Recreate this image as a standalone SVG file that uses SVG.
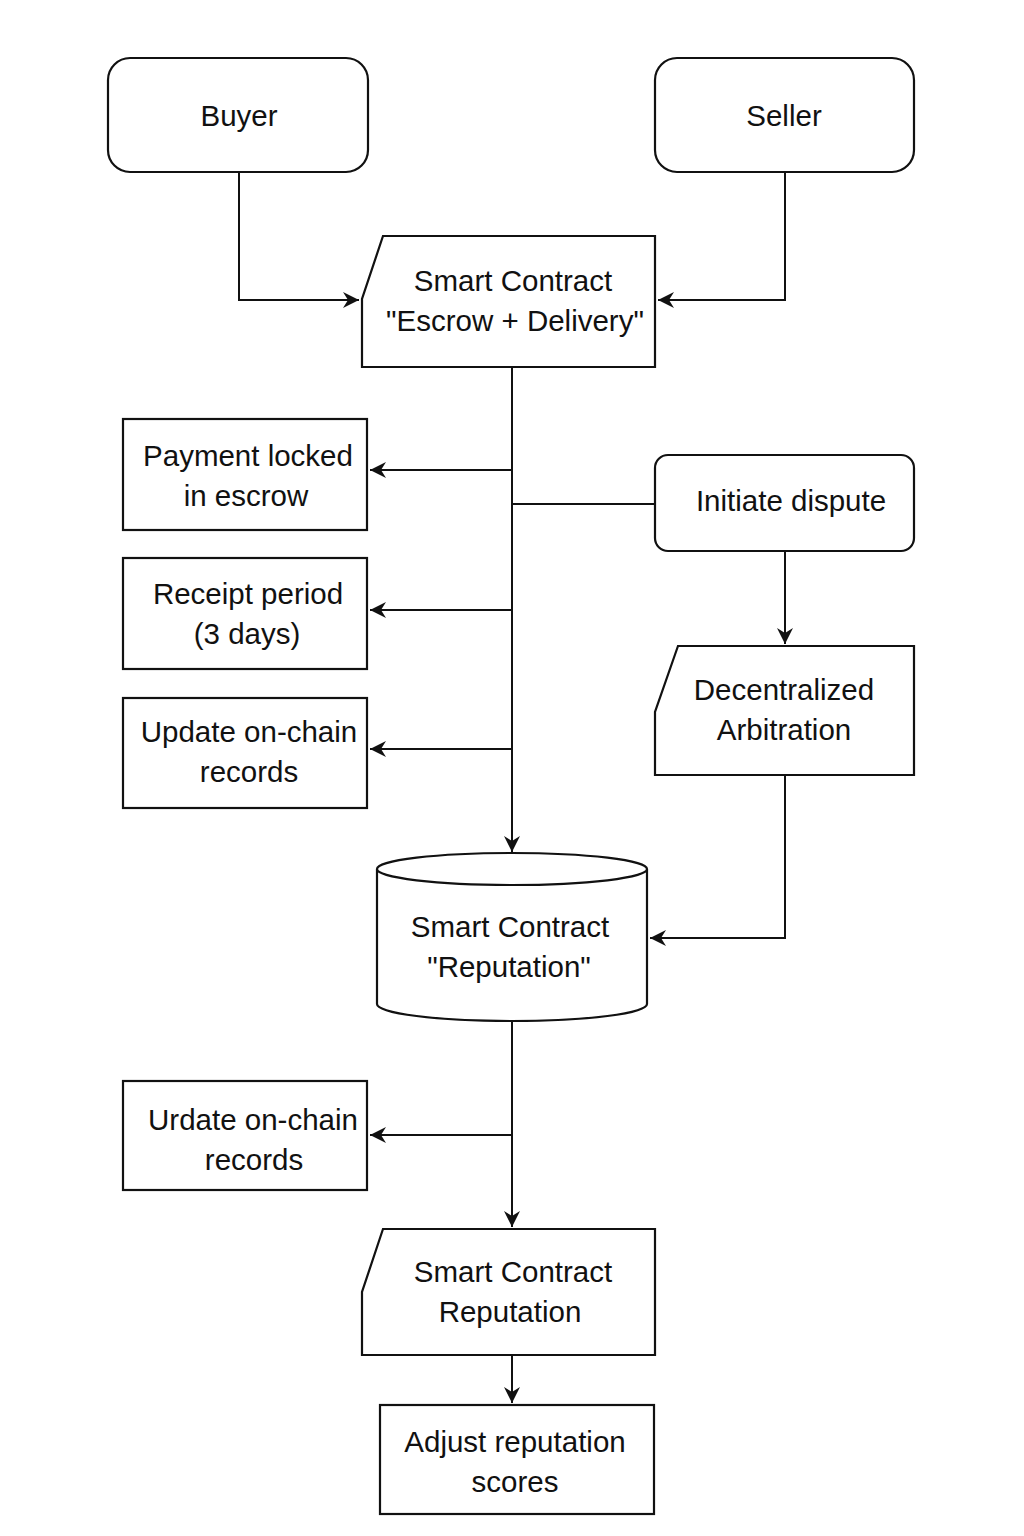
<svg xmlns="http://www.w3.org/2000/svg" width="1024" height="1536" viewBox="0 0 1024 1536">
<defs>
<style>
.n{fill:#fff;stroke:#111;stroke-width:2.2}
.c{fill:none;stroke:#111;stroke-width:2}
text{font-family:"Liberation Sans",Arial,sans-serif;font-size:29.5px;fill:#111;text-anchor:middle}
</style>
<marker id="a" markerWidth="18" markerHeight="16" refX="16" refY="8" orient="auto" markerUnits="userSpaceOnUse">
<path d="M0,0 L16,8 L0,16 L5,8 Z" fill="#111"/>
</marker>
</defs>
<rect width="1024" height="1536" fill="#fff"/>
<g id="connectors">
<path class="c" d="M239,172 V300 H359" marker-end="url(#a)"/>
<path class="c" d="M785,172 V300 H658" marker-end="url(#a)"/>
<path class="c" d="M512,367 V852" marker-end="url(#a)"/>
<path class="c" d="M512,470 H370" marker-end="url(#a)"/>
<path class="c" d="M512,610 H370" marker-end="url(#a)"/>
<path class="c" d="M512,749 H370" marker-end="url(#a)"/>
<path class="c" d="M655,504 H512"/>
<path class="c" d="M785,551 V644" marker-end="url(#a)"/>
<path class="c" d="M785,775 V938 H650" marker-end="url(#a)"/>
<path class="c" d="M512,1022 V1227" marker-end="url(#a)"/>
<path class="c" d="M512,1135 H370" marker-end="url(#a)"/>
<path class="c" d="M512,1355 V1403" marker-end="url(#a)"/>
</g>
<g id="buyer"><rect class="n" x="108" y="58" width="260" height="114" rx="22"/><text x="239" y="126">Buyer</text></g>
<g id="seller"><rect class="n" x="655" y="58" width="259" height="114" rx="22"/><text x="784" y="126">Seller</text></g>
<g id="escrow"><path class="n" d="M383,236 H655 V367 H362 V299 Z"/><text x="513" y="291">Smart Contract</text><text x="515" y="331">"Escrow + Delivery"</text></g>
<g id="payment"><rect class="n" x="123" y="419" width="244" height="111"/><text x="248" y="466">Payment locked</text><text x="246" y="506">in escrow</text></g>
<g id="receipt"><rect class="n" x="123" y="558" width="244" height="111"/><text x="248" y="604">Receipt period</text><text x="247" y="644">(3 days)</text></g>
<g id="update"><rect class="n" x="123" y="698" width="244" height="110"/><text x="249" y="742">Update on-chain</text><text x="249" y="782">records</text></g>
<g id="dispute"><rect class="n" x="655" y="455" width="259" height="96" rx="13"/><text x="791" y="511">Initiate dispute</text></g>
<g id="arbitration"><path class="n" d="M678,646 H914 V775 H655 V712 Z"/><text x="784" y="700">Decentralized</text><text x="784" y="740">Arbitration</text></g>
<g id="reputation-db"><path class="n" d="M377,869 V1004 A135,17 0 0 0 647,1004 V869"/><ellipse class="n" cx="512" cy="869" rx="135" ry="16"/><text x="510" y="937">Smart Contract</text><text x="509" y="977">"Reputation"</text></g>
<g id="urdate"><rect class="n" x="123" y="1081" width="244" height="109"/><text x="253" y="1130">Urdate on-chain</text><text x="254" y="1170">records</text></g>
<g id="reputation"><path class="n" d="M383,1229 H655 V1355 H362 V1292 Z"/><text x="513" y="1282">Smart Contract</text><text x="510" y="1322">Reputation</text></g>
<g id="adjust"><rect class="n" x="380" y="1405" width="274" height="109"/><text x="515" y="1452">Adjust reputation</text><text x="515" y="1492">scores</text></g>
</svg>
